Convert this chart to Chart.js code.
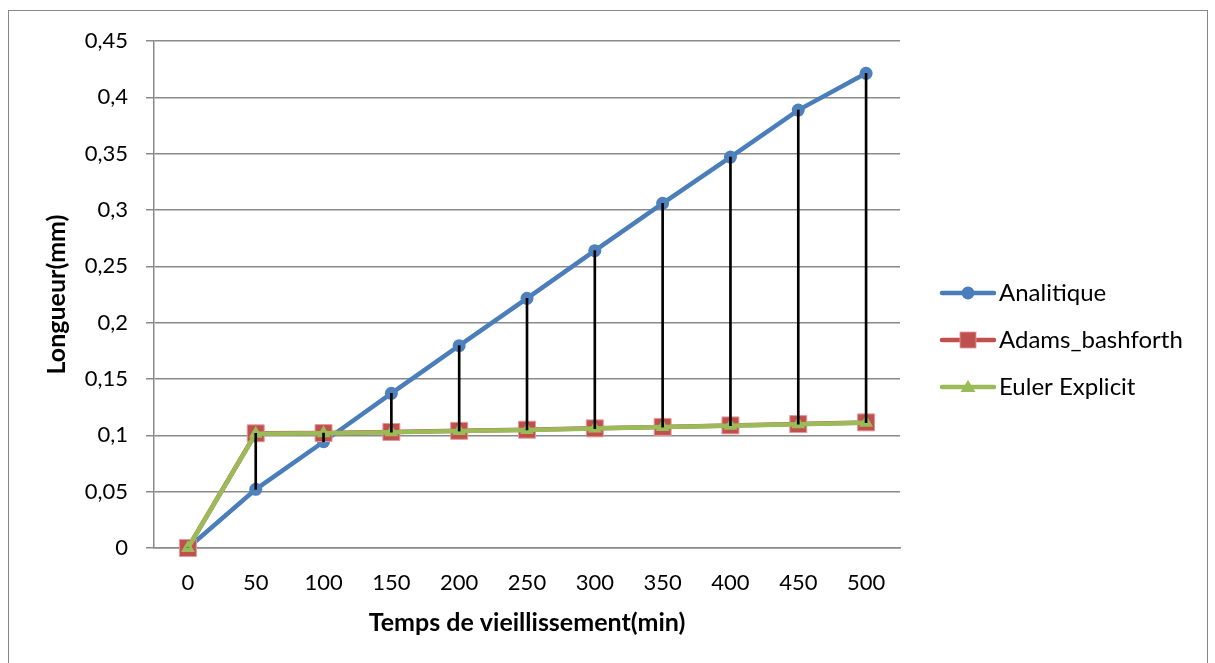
<!DOCTYPE html>
<html>
<head>
<meta charset="utf-8">
<script src="https://cdn.jsdelivr.net/npm/chart.js@4/dist/chart.umd.min.js"></script>
<style>
  html, body { margin: 0; padding: 0; background: #fff; overflow: hidden; }
  #wrap { position: relative; width: 1215px; height: 663px; }
  #frame { position: absolute; left: 8px; top: 10px; width: 1198px; height: 700px; border: 1.5px solid #868686; pointer-events: none; }
</style>
</head>
<body>
<div id="wrap">
  <canvas id="chart"></canvas>
  <div id="frame"></div>
</div>
<script>
const times = ["0", "50", "100", "150", "200", "250", "300", "350", "400", "450", "500"];
const analitique = [0, 0.0521, 0.0943, 0.1373, 0.1796, 0.2216, 0.2639, 0.3059, 0.347, 0.3887, 0.4213];
const adamsBashforth = [0, 0.1018, 0.102, 0.103, 0.104, 0.105, 0.1062, 0.1075, 0.1088, 0.11, 0.1115];
const eulerExplicit = [0, 0.1015, 0.1018, 0.1028, 0.1038, 0.1048, 0.106, 0.1073, 0.1086, 0.1098, 0.1112];
const seriesNames = ["Analitique", "Adams_bashforth", "Euler Explicit"];
const yTicks = { min: 0, max: 0.45, step: 0.05 };

const colors = {
  blue: "#4A7EBB",
  blueFill: "#4F81BD",
  red: "#C0504D",
  redEdge: "#E29B99",
  green: "#9BBB59",
  grid: "#8A8A8A",
  text: "#000000",
};

const FONT = "Lato, 'Open Sans', sans-serif";
const legendFontSize = 24;
const legendPadding = 23;
const legendBox = 64;

// high-low lines between the series at each time step
const dropLines = times.map((_, i) => {
  const vals = [analitique[i], adamsBashforth[i], eulerExplicit[i]];
  return [Math.min(...vals), Math.max(...vals)];
});

function legendIcon(color, marker) {
  const c = document.createElement("canvas");
  c.width = 82;
  c.height = 20;
  const ctx = c.getContext("2d");
  const cx = 54;
  ctx.strokeStyle = color;
  ctx.lineWidth = 4.5;
  ctx.lineCap = "round";
  ctx.beginPath();
  ctx.moveTo(28, 10);
  ctx.lineTo(80, 10);
  ctx.stroke();
  ctx.fillStyle = color;
  ctx.beginPath();
  if (marker === "circle") {
    ctx.arc(cx, 10, 6.5, 0, Math.PI * 2);
    ctx.fill();
  } else if (marker === "rect") {
    ctx.fillRect(cx - 8, 2, 16, 16);
    ctx.setLineDash([1, 1]);
    ctx.lineWidth = 1;
    ctx.strokeStyle = colors.redEdge;
    ctx.strokeRect(cx - 8, 2, 16, 16);
  } else {
    ctx.moveTo(cx, 3);
    ctx.lineTo(cx + 7.5, 15);
    ctx.lineTo(cx - 7.5, 15);
    ctx.closePath();
    ctx.fill();
  }
  return c;
}

const icons = [
  legendIcon(colors.blue, "circle"),
  legendIcon(colors.red, "rect"),
  legendIcon(colors.green, "triangle"),
];

// right padding so the plot ends at x=900 and the legend text starts at x=999
const measure = document.createElement("canvas").getContext("2d");
measure.font = `${legendFontSize}px ${FONT}`;
const textW = Math.max(...seriesNames.map((n) => measure.measureText(n).width));
const padRight = Math.max(0, 1215 - 900 - (legendPadding + legendBox + legendFontSize / 2 + textW + 10));

const tickLabel = (v) => String(Number(v.toFixed(2))).replace(".", ",");

new Chart(document.getElementById("chart"), {
  type: "line",
  data: {
    labels: times,
    datasets: [
      {
        type: "bar",
        label: "drop",
        data: dropLines,
        backgroundColor: "#000",
        barThickness: 2,
        order: 0,
      },
      {
        label: seriesNames[0],
        data: analitique,
        borderColor: colors.blue,
        borderWidth: 4.5,
        pointStyle: "circle",
        pointRadius: 6.5,
        pointBackgroundColor: colors.blueFill,
        pointBorderWidth: 0,
        tension: 0,
        clip: false,
        order: 3,
      },
      {
        label: seriesNames[1],
        data: adamsBashforth,
        borderColor: colors.red,
        borderWidth: 4.5,
        pointStyle: "rect",
        pointRadius: 12,
        pointBackgroundColor: colors.red,
        pointBorderColor: colors.redEdge,
        pointBorderWidth: 1,
        tension: 0,
        clip: false,
        order: 2,
      },
      {
        label: seriesNames[2],
        data: eulerExplicit,
        borderColor: colors.green,
        borderWidth: 4.5,
        pointStyle: "triangle",
        pointRadius: 8,
        pointBackgroundColor: colors.green,
        pointBorderWidth: 0,
        tension: 0,
        clip: false,
        order: 1,
      },
    ],
  },
  options: {
    responsive: true,
    maintainAspectRatio: false,
    animation: false,
    events: [],
    layout: { padding: { top: 41, bottom: 24, left: 0, right: padRight } },
    font: { family: FONT },
    plugins: {
      tooltip: { enabled: false },
      legend: {
        position: "right",
        labels: {
          usePointStyle: true,
          pointStyleWidth: legendBox,
          padding: legendPadding,
          color: colors.text,
          font: { family: FONT, size: legendFontSize },
          generateLabels: () => seriesNames.map((name, i) => ({
            text: name,
            pointStyle: icons[i],
            datasetIndex: i + 1,
            hidden: false,
            fontColor: colors.text,
            lineWidth: 0,
          })),
        },
      },
    },
    scales: {
      x: {
        type: "category",
        offset: true,
        grid: { display: false, drawTicks: false, offset: true },
        border: { display: true, color: colors.grid, width: 1.5 },
        ticks: { color: colors.text, padding: 22, font: { family: FONT, size: 22 }, maxRotation: 0 },
        title: {
          display: true,
          text: "Temps de vieillissement(min)",
          color: colors.text,
          font: { family: FONT, size: 25, weight: "bold" },
          padding: { top: 0, bottom: 1 },
        },
        afterFit: (scale) => { scale.height = 91; },
      },
      y: {
        min: yTicks.min,
        max: yTicks.max,
        grid: { color: colors.grid, lineWidth: 1.5, tickLength: 8, tickColor: colors.grid },
        border: { display: true, color: colors.grid, width: 1.5 },
        ticks: {
          stepSize: yTicks.step,
          color: colors.text,
          padding: 18,
          font: { family: FONT, size: 22 },
          callback: (v) => tickLabel(v),
        },
        title: {
          display: true,
          text: "Longueur(mm)",
          color: colors.text,
          font: { family: FONT, size: 25, weight: "bold" },
          padding: { top: 42, bottom: 0 },
        },
        afterFit: (scale) => { scale.width = 154; },
      },
    },
  },
});
</script>
</body>
</html>
